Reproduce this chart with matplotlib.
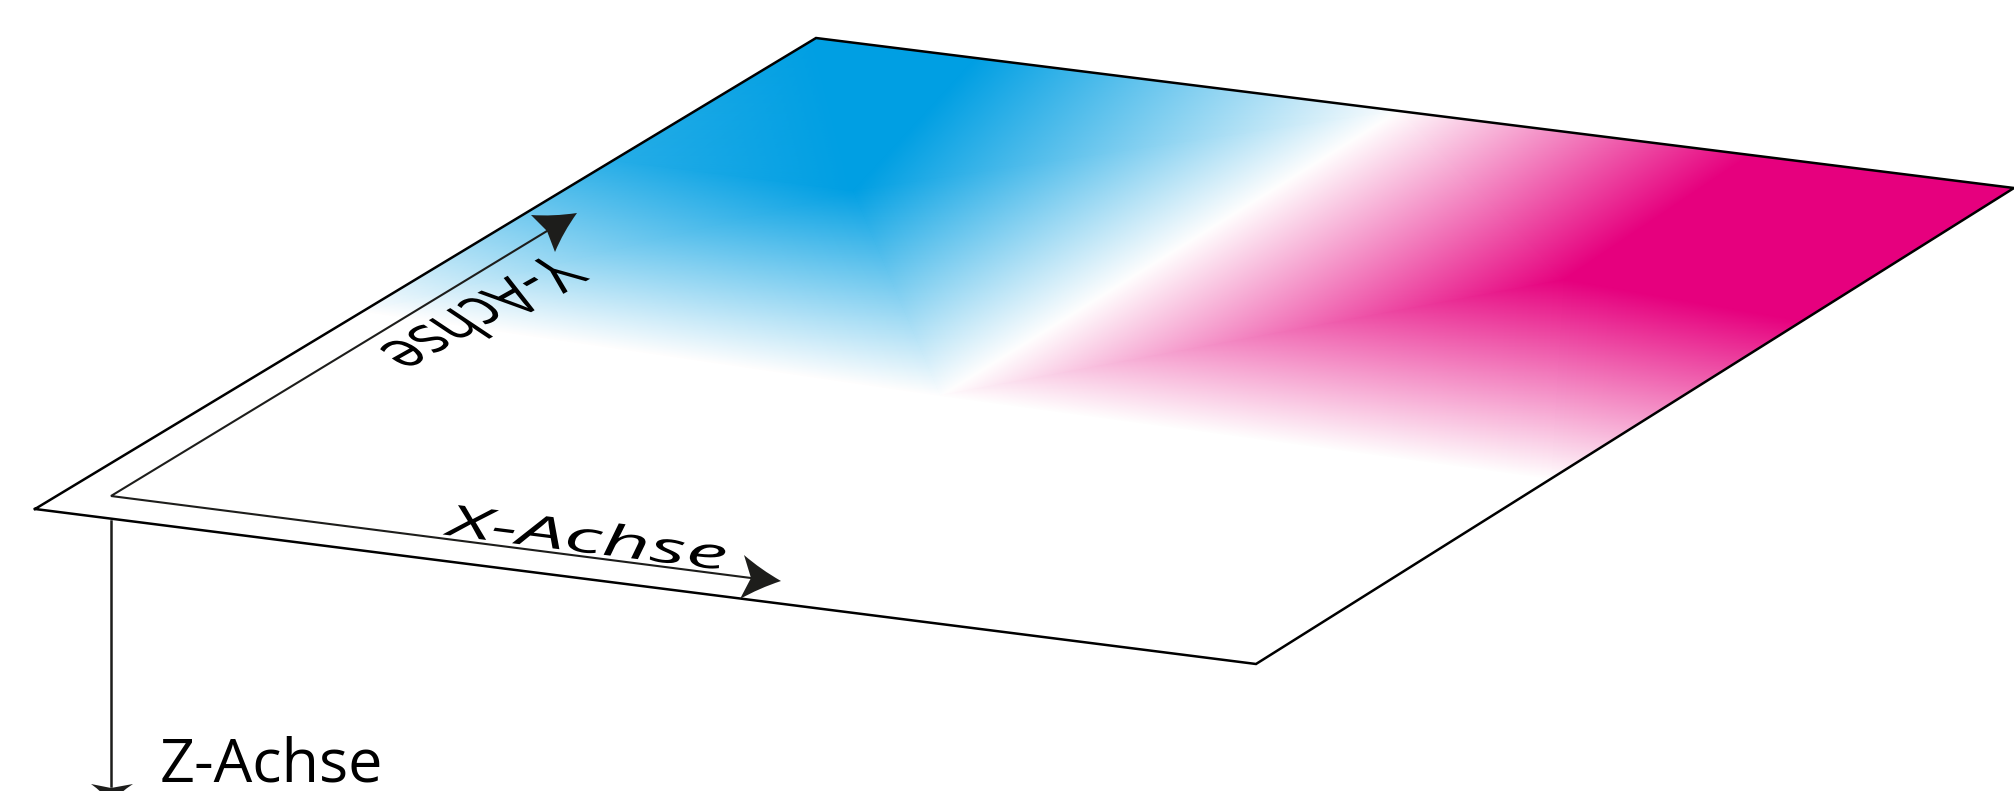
import numpy as np
import matplotlib
matplotlib.use("Agg")
import matplotlib.pyplot as plt
from matplotlib.colors import LinearSegmentedColormap
from matplotlib.patches import PathPatch
from matplotlib.path import Path
from matplotlib.patheffects import AbstractPathEffect
from matplotlib.transforms import Affine2D

W, H = 2014, 791

# plane corners in picture pixels: left, bottom, right, top
left = np.array([35, 509])
bottom = np.array([1256, 664])
right = np.array([2014, 188])
top = np.array([816, 38])

# colour mesh: position on the plane and -1 blue, 0 white, 1 magenta
node_u = [0, 0.49, 0.487, 0.2, 0.134, 0, 0, 0.79, 0.78, 1, 1, 1]
node_v = [0.42, 0.4, 1, 0.74, 1, 1, 0.74, 0.74, 1, 1, 0.72, 0.39]
node_value = [0, 0, 0, -1, -1, -1, -0.85, 1, 1, 1, 1, 0]
mesh_triangles = [
    [0, 1, 3], [0, 3, 6], [6, 3, 5], [5, 3, 4], [3, 4, 2], [3, 2, 1],
    [1, 7, 2], [7, 8, 2], [7, 8, 9], [7, 9, 10], [1, 7, 11], [7, 10, 11],
]

BLUE = "#009fe3"
MAGENTA = "#e6007e"
DARK = "#1d1d1b"


def plane_xy(u, v):
    """bilinear position on the plane for u along the x axis, v along the y axis"""
    return (left * (1 - u) * (1 - v) + bottom * u * (1 - v)
            + right * u * v + top * (1 - u) * v)


class Warp(AbstractPathEffect):
    """Stretches and shears a text around its anchor, for the projected labels"""

    def __init__(self, anchor, e1, e2):
        self.anchor = anchor
        self.e1 = e1
        self.e2 = e2

    def draw_path(self, renderer, gc, tpath, affine, rgbFace=None):
        ax_, ay_ = self.anchor[0], H - self.anchor[1]
        m = np.array([[self.e1[0], self.e2[0], 0],
                      [-self.e1[1], -self.e2[1], 0],
                      [0, 0, 1]])
        warp = (Affine2D().translate(-ax_, -ay_) + Affine2D(m)
                + Affine2D().translate(ax_, ay_))
        renderer.draw_path(gc, tpath, affine + warp, rgbFace)


def warped_label(ax, text, anchor, e1, e2, **kw):
    t = ax.text(anchor[0], anchor[1], text, ha="left", va="baseline",
                color="black", family="Open Sans", **kw)
    t.set_path_effects([Warp(anchor, e1, e2)])
    return t


def arrow_head(ax, tip, barb1, notch, barb2):
    tip, barb1, notch, barb2 = [np.array(p, float) for p in (tip, barb1, notch, barb2)]
    # sides of the head bow inwards towards the notch
    c1 = (tip + barb1) / 2 * 0.85 + notch * 0.15
    c2 = (tip + barb2) / 2 * 0.85 + notch * 0.15
    verts = [tip, c1, barb1, notch, barb2, c2, tip]
    codes = [Path.MOVETO, Path.CURVE3, Path.CURVE3, Path.LINETO, Path.LINETO,
             Path.CURVE3, Path.CURVE3]
    ax.add_patch(PathPatch(Path(verts, codes), facecolor=DARK, edgecolor="none",
                           zorder=5))


fig = plt.figure(figsize=(W / 100, H / 100), dpi=100)
ax = fig.add_axes([0, 0, 1, 1])
ax.set_xlim(0, W)
ax.set_ylim(H, 0)
ax.axis("off")

cmap = LinearSegmentedColormap.from_list("bwm", [BLUE, "#ffffff", MAGENTA])
xy = np.array([plane_xy(u, v) for u, v in zip(node_u, node_v)])
ax.tripcolor(xy[:, 0], xy[:, 1], mesh_triangles, np.array(node_value, float),
             shading="gouraud", cmap=cmap, vmin=-1, vmax=1, zorder=1)

outline = np.array([left, bottom, right, top, left])
ax.plot(outline[:, 0], outline[:, 1], color="black", lw=1.8, zorder=3,
        solid_joinstyle="miter")

# axis lines
ax.plot([547, 111, 751], [231, 496, 578], color=DARK, lw=1.5, zorder=4,
        solid_joinstyle="miter")
ax.plot([111, 111], [521, 786], color=DARK, lw=1.8, zorder=4)

arrow_head(ax, (577, 213), (531, 215), (547, 231), (555, 252))
arrow_head(ax, (781, 581), (744, 555), (751, 578), (740, 599))
arrow_head(ax, (111, 802), (91, 784), (111, 788), (133, 784))

warped_label(ax, "X-Achse", (447, 535), (1.82, 0.23), (0.05, -0.95),
             fontsize=33, style="italic")
warped_label(ax, "Y-Achse", (550, 252), (-1.28, 0.72), (1.5, 1.0),
             fontsize=27)
ax.text(160, 782, "Z-Achse", fontsize=44, family="Open Sans", color="black",
        ha="left", va="baseline")

fig.savefig("out.png", dpi=100)
